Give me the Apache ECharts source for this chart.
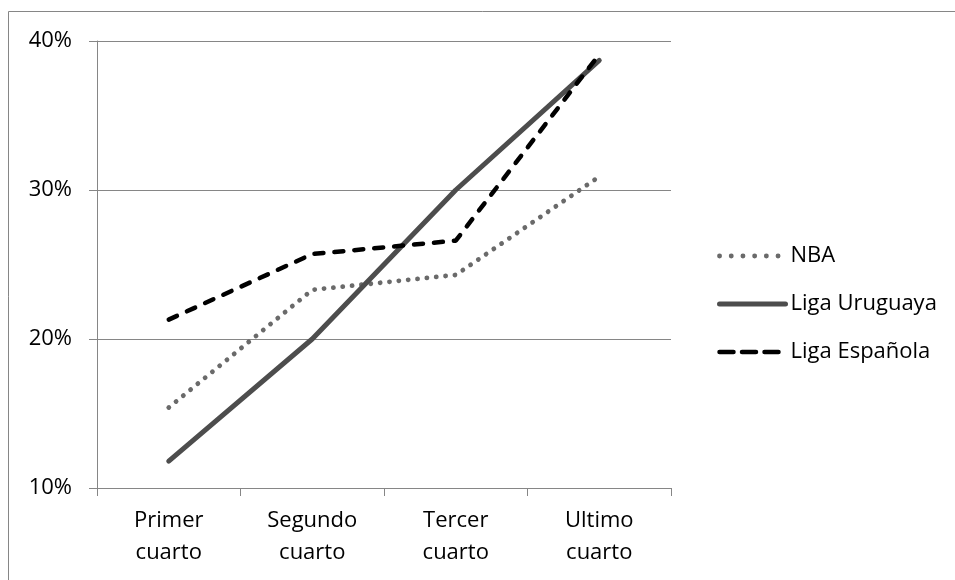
<!DOCTYPE html>
<html>
<head>
<meta charset="utf-8">
<script src="https://cdn.jsdelivr.net/npm/echarts@6/dist/echarts.min.js"></script>
<style>
html,body{margin:0;padding:0;background:#fff;}
#c{width:955px;height:580px;}
</style>
</head>
<body>
<div id="c"></div>
<script>
const categories = ['Primer\ncuarto', 'Segundo\ncuarto', 'Tercer\ncuarto', 'Ultimo\ncuarto'];
const nba = [15.4, 23.3, 24.3, 30.9];
const ligaUruguaya = [11.8, 20.0, 30.0, 38.7];
const ligaEspanola = [21.3, 25.7, 26.6, 39.1];
const yTicks = [10, 20, 30, 40];

const FONT = '"Open Sans", "Noto Sans", sans-serif';
const AX = '#868686';

const chart = echarts.init(document.getElementById('c'), null, {renderer: 'canvas'});
const nbaStyle = {color: '#6a6a6a', width: 4.8, type: [0.1, 9.3], cap: 'round'};
const uruStyle = {color: '#4d4d4d', width: 5, type: 'solid', cap: 'round'};
const espStyle = {color: '#000000', width: 4.5, type: [9, 11], cap: 'round'};

chart.setOption({
  animation: false,
  backgroundColor: '#ffffff',
  graphic: [{
    type: 'rect',
    shape: {x: 8.5, y: 11.5, width: 1200, height: 1200},
    style: {fill: 'none', stroke: AX, lineWidth: 1},
    silent: true
  }],
  grid: {left: 97, right: 284, top: 41, bottom: 92, containLabel: false},
  legend: {
    orient: 'vertical',
    left: 712,
    top: 238,
    itemWidth: 66,
    itemHeight: 14,
    itemGap: 22,
    textStyle: {fontFamily: FONT, fontSize: 22, color: '#000', lineHeight: 26},
    data: [
      {name: 'NBA', itemStyle: {opacity: 0}, lineStyle: {color: '#6a6a6a', width: 4.8, type: [0.1, 11.6], cap: 'round'}},
      {name: 'Liga Uruguaya', itemStyle: {opacity: 0}, lineStyle: {color: '#4d4d4d', width: 5, type: 'solid', cap: 'round'}},
      {name: 'Liga Española', itemStyle: {opacity: 0}, lineStyle: {color: '#000', width: 4.5, type: [14, 8.5], cap: 'round'}}
    ]
  },
  xAxis: {
    type: 'category',
    data: categories,
    boundaryGap: true,
    axisLine: {show: true, lineStyle: {color: AX, width: 1}},
    axisTick: {show: true, length: 8, lineStyle: {color: AX}},
    axisLabel: {fontFamily: FONT, fontSize: 22, color: '#000', lineHeight: 32, margin: 17},
    splitLine: {show: false}
  },
  yAxis: {
    type: 'value',
    min: yTicks[0],
    max: yTicks[yTicks.length - 1],
    interval: 10,
    axisLine: {show: true, lineStyle: {color: AX, width: 1}},
    axisTick: {show: true, length: 8, lineStyle: {color: AX}},
    axisLabel: {fontFamily: FONT, fontSize: 22, color: '#000', margin: 25, formatter: '{value}%'},
    splitLine: {show: true, lineStyle: {color: AX, width: 1}}
  },
  series: [
    {name: 'NBA', type: 'line', data: nba, symbol: 'none', lineStyle: nbaStyle, itemStyle: {color: '#6a6a6a'}},
    {name: 'Liga Uruguaya', type: 'line', data: ligaUruguaya, symbol: 'none', lineStyle: uruStyle, itemStyle: {color: '#4d4d4d'}},
    {name: 'Liga Española', type: 'line', data: ligaEspanola, symbol: 'none', lineStyle: espStyle, itemStyle: {color: '#000'}}
  ]
});
</script>
</body>
</html>
